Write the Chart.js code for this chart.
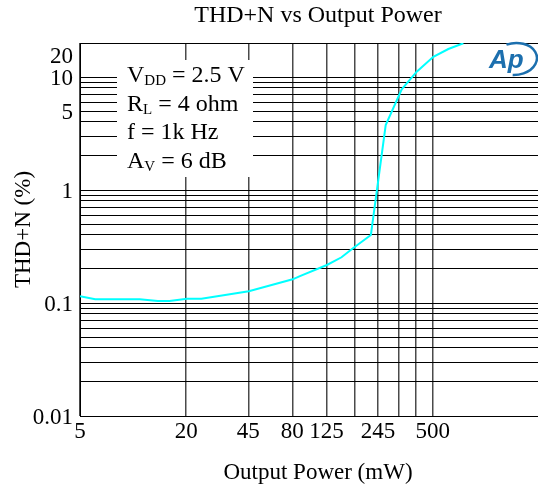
<!DOCTYPE html>
<html><head><meta charset="utf-8">
<script src="https://cdn.jsdelivr.net/npm/chart.js@4/dist/chart.umd.min.js"></script>
<style>
html,body{margin:0;padding:0;background:#fff;overflow:hidden;width:538px;height:492px}
#wrap{position:absolute;left:0;top:0;width:570px;height:492px}
</style>
</head><body><div id="wrap"><canvas id="c" width="570" height="492"></canvas></div>
<script>
// Data
const outputPower = [5, 6.1, 10.9, 13.8, 16.1, 20.2, 24.4, 45.3, 80.3, 88.3, 125.6, 152, 176.5, 223, 270.6, 333.5, 405.7, 504, 613, 746];
const thdPercent  = [0.115, 0.108, 0.108, 0.104, 0.104, 0.109, 0.109, 0.127, 0.162, 0.173, 0.217, 0.254, 0.305, 0.400, 3.76, 7.78, 11.14, 15.1, 17.7, 19.9];
const xGridValues = [5, 20, 45, 80, 125, 180, 245, 320, 400, 500];
const xTickLabels = [5, 20, 45, 80, 125, 245, 500];
const yGridValues = [0.01, 0.02, 0.03, 0.04, 0.05, 0.06, 0.07, 0.08, 0.09,
                     0.1, 0.2, 0.3, 0.4, 0.5, 0.6, 0.7, 0.8, 0.9,
                     1, 2, 3, 4, 5, 6, 7, 8, 9, 10, 20];
const yTickLabels = [0.01, 0.1, 1, 5, 10, 20];
const conditions = [
  {main: 'V', sub: 'DD', rest: ' = 2.5 V'},
  {main: 'R', sub: 'L', rest: ' = 4 ohm'},
  {main: 'f = 1k Hz', sub: '', rest: ''},
  {main: 'A', sub: 'V', rest: ' = 6 dB'}
];

const SERIF = '"Liberation Serif", "Times New Roman", serif';
const isIn = (arr, v) => arr.some(l => Math.abs(l - v) / l < 1e-6);

const annot = {
  id: 'annot',
  beforeDatasetsDraw(chart) {
    const {ctx, chartArea: a} = chart;
    ctx.save();
    ctx.fillStyle = '#fff';
    ctx.fillRect(a.left + 37, a.top + 17, 136, 117);
    ctx.fillStyle = '#000';
    ctx.textBaseline = 'alphabetic';
    ctx.textAlign = 'left';
    let y = a.top + 39;
    conditions.forEach(c => {
      let x = a.left + 47;
      ctx.font = '24px ' + SERIF;
      ctx.fillText(c.main, x, y);
      x += ctx.measureText(c.main).width;
      if (c.sub) {
        ctx.font = '15px ' + SERIF;
        ctx.fillText(c.sub, x, y + 3);
        x += ctx.measureText(c.sub).width;
      }
      if (c.rest) {
        ctx.font = '24px ' + SERIF;
        ctx.fillText(c.rest, x, y);
      }
      y += 28.5;
    });
    ctx.restore();
  },
  afterDraw(chart) {
    const {ctx} = chart;
    ctx.save();
    const blue = '#1c6fae';
    ctx.fillStyle = blue;
    ctx.strokeStyle = blue;
    ctx.font = 'italic bold 26px "Liberation Sans", Arial, sans-serif';
    ctx.textBaseline = 'alphabetic';
    ctx.fillText('Ap', 489, 68);
    ctx.lineWidth = 2.5;
    ctx.beginPath();
    ctx.ellipse(515, 59, 22, 16, -0.1, -1.9, 1.75);
    ctx.stroke();
    ctx.restore();
  }
};

new Chart(document.getElementById('c'), {
  type: 'line',
  data: {
    datasets: [{
      data: outputPower.map((x, i) => ({x: x, y: thdPercent[i]})),
      borderColor: '#00ffff',
      borderWidth: 2,
      pointRadius: 0,
      tension: 0,
      fill: false
    }]
  },
  options: {
    responsive: false,
    animation: false,
    devicePixelRatio: 1,
    layout: {padding: {left: 0, right: 14, top: 0, bottom: 0}},
    plugins: {
      legend: {display: false},
      tooltip: {enabled: false},
      title: {
        display: true,
        text: 'THD+N vs Output Power',
        fullSize: false,
        color: '#000',
        font: {family: SERIF, size: 24, weight: 'normal', lineHeight: 1.2},
        padding: {top: 1, bottom: 13.2}
      }
    },
    scales: {
      x: {
        type: 'logarithmic',
        min: 5,
        max: 2500,
        afterBuildTicks(s) { s.ticks = xGridValues.map(v => ({value: v})); },
        afterFit(s) { s.height = 76; },
        ticks: {
          autoSkip: false,
          maxRotation: 0,
          padding: 2,
          color: '#000',
          font: {family: SERIF, size: 23},
          callback(v) { return isIn(xTickLabels, v) ? String(v) : ''; }
        },
        grid: {color: '#4a4a4a', lineWidth: 1.5, drawTicks: false},
        border: {display: true, color: '#000', width: 1},
        title: {
          display: true,
          text: 'Output Power (mW)',
          color: '#000',
          font: {family: SERIF, size: 23, weight: 'normal'},
          padding: {top: 0, bottom: 5}
        }
      },
      y: {
        type: 'logarithmic',
        min: 0.01,
        max: 20,
        afterBuildTicks(s) { s.ticks = yGridValues.map(v => ({value: v})); },
        afterFit(s) { s.width = 80; },
        ticks: {
          autoSkip: false,
          padding: 7,
          labelOffset: 2,
          color: '#000',
          font: {family: SERIF, size: 23, lineHeight: 1.0},
          callback(v) {
            if (!isIn(yTickLabels, v)) return '';
            const s = String(+v.toPrecision(3));
            return Math.abs(v - 20) < 1e-9 ? ['', s] : s;
          }
        },
        grid: {color: '#000', lineWidth: 1, drawTicks: false},
        border: {display: true, color: '#000', width: 1},
        title: {
          display: true,
          text: 'THD+N (%)',
          color: '#000',
          font: {family: SERIF, size: 23, weight: 'normal'},
          padding: {top: 10, bottom: 0}
        }
      }
    }
  },
  plugins: [annot]
});
</script>
</body></html>
